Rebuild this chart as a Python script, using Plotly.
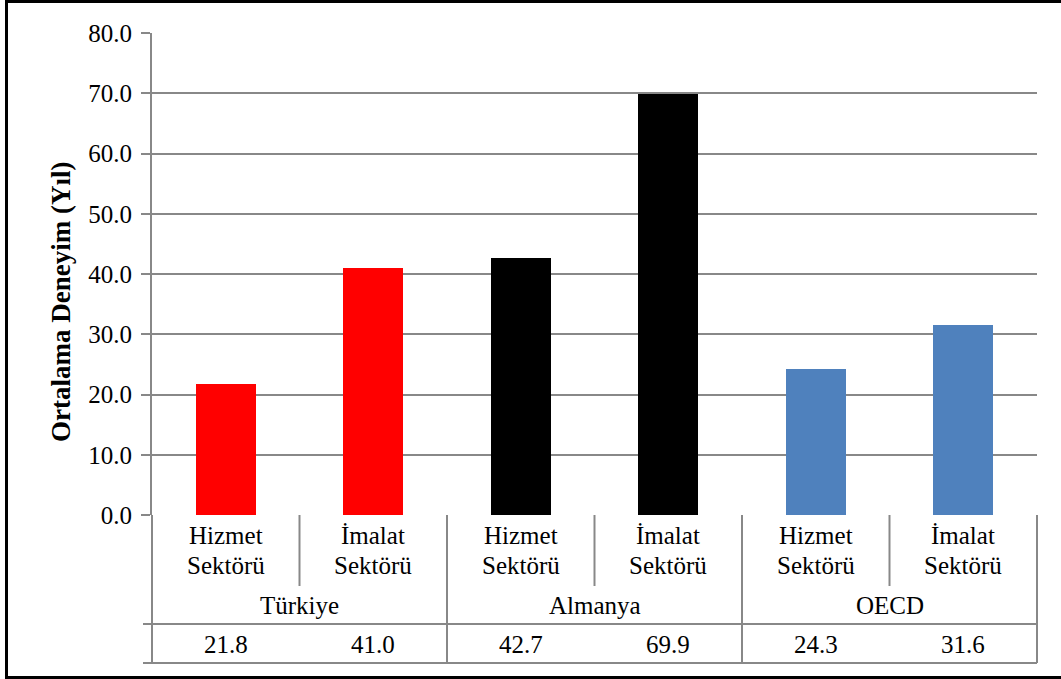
import plotly.graph_objects as go

# Data
groups = ["Türkiye", "Almanya", "OECD"]
sectors = ["Hizmet Sektörü", "İmalat Sektörü"]
values = [21.8, 41.0, 42.7, 69.9, 24.3, 31.6]
y_title = "Ortalama Deneyim (Yıl)"

# Styling
group_colors = {"Türkiye": "#FF0000", "Almanya": "#000000", "OECD": "#4F81BD"}
grid_color = "#888888"
font_family = "Liberation Serif"
W, H = 1061, 679
M_L, M_R, M_T, M_B = 152, 24, 33, 164
PW, PH = W - M_L - M_R, H - M_T - M_B


def px_x(px):
    """Pixel x -> paper x."""
    return (px - M_L) / PW


def px_y(py):
    """Pixel y (from top) -> paper y."""
    return (H - M_B - py) / PH


n_cat = len(groups) * len(sectors)
cat_x = list(range(n_cat))
cat_group = [g for g in groups for _ in sectors]
cat_sector = [s for _ in groups for s in sectors]

fig = go.Figure(
    go.Bar(
        x=cat_x,
        y=values,
        width=0.41,
        marker=dict(color=[group_colors[g] for g in cat_group], line=dict(width=0)),
        showlegend=False,
        hoverinfo="skip",
    )
)

shapes = []
annotations = []

# Table grid below the axis
row_sector_end = px_y(586)
row_group_end = px_y(624)
row_data_end = px_y(663)
tick_left = px_x(143)
line_style = dict(color=grid_color, width=2)

for k in range(n_cat + 1):
    xd = k / n_cat
    bottom = row_data_end if k % len(sectors) == 0 else row_sector_end
    shapes.append(dict(type="line", xref="x domain", yref="paper",
                       x0=xd, x1=xd, y0=0, y1=bottom, line=line_style))
for yy in (row_group_end, row_data_end):
    shapes.append(dict(type="line", xref="paper", yref="paper",
                       x0=tick_left, x1=1, y0=yy, y1=yy, line=line_style))

# Outer chart frame
shapes.append(dict(type="rect", xref="paper", yref="paper",
                   x0=px_x(6.5), x1=px_x(1066), y0=px_y(677.5), y1=px_y(1.5),
                   line=dict(color="black", width=3), fillcolor="rgba(0,0,0,0)"))

txt_font = dict(family=font_family, size=25, color="black")

# Sector labels (two lines) and data values
for i in cat_x:
    word1, word2 = cat_sector[i].split(" ")
    annotations.append(dict(x=i, y=px_y(535), xref="x", yref="paper", text=word1,
                            showarrow=False, font=txt_font, xanchor="center", yanchor="middle"))
    annotations.append(dict(x=i, y=px_y(565), xref="x", yref="paper", text=word2,
                            showarrow=False, font=txt_font, xanchor="center", yanchor="middle"))
    annotations.append(dict(x=i, y=px_y(644), xref="x", yref="paper", text=f"{values[i]:.1f}",
                            showarrow=False, font=txt_font, xanchor="center", yanchor="middle"))

# Group labels
for gi, g in enumerate(groups):
    xc = gi * len(sectors) + (len(sectors) - 1) / 2
    annotations.append(dict(x=xc, y=px_y(605), xref="x", yref="paper", text=g,
                            showarrow=False, font=txt_font, xanchor="center", yanchor="middle"))

# Y axis title
annotations.append(dict(x=px_x(61), y=px_y(302), xref="paper", yref="paper",
                        text=f"<b>{y_title}</b>", textangle=-90, showarrow=False,
                        font=dict(family=font_family, size=27, color="black"),
                        xanchor="center", yanchor="middle"))

fig.update_layout(
    width=W, height=H,
    margin=dict(l=M_L, r=M_R, t=M_T, b=M_B, pad=0),
    paper_bgcolor="white", plot_bgcolor="white",
    bargap=0,
    shapes=shapes,
    annotations=annotations,
    xaxis=dict(range=[-0.5, n_cat - 0.5], showticklabels=False, ticks="",
               showgrid=False, zeroline=False, showline=False, fixedrange=True),
    yaxis=dict(range=[0, 80], dtick=10, tick0=0, tickformat=".1f",
               showgrid=True, gridcolor=grid_color, gridwidth=2,
               showline=True, linecolor=grid_color, linewidth=2,
               ticks="outside", ticklen=9, tickwidth=2, tickcolor=grid_color,
               ticklabelstandoff=4, zeroline=False,
               tickfont=txt_font,
               fixedrange=True),
)

fig.write_html("out.html")
